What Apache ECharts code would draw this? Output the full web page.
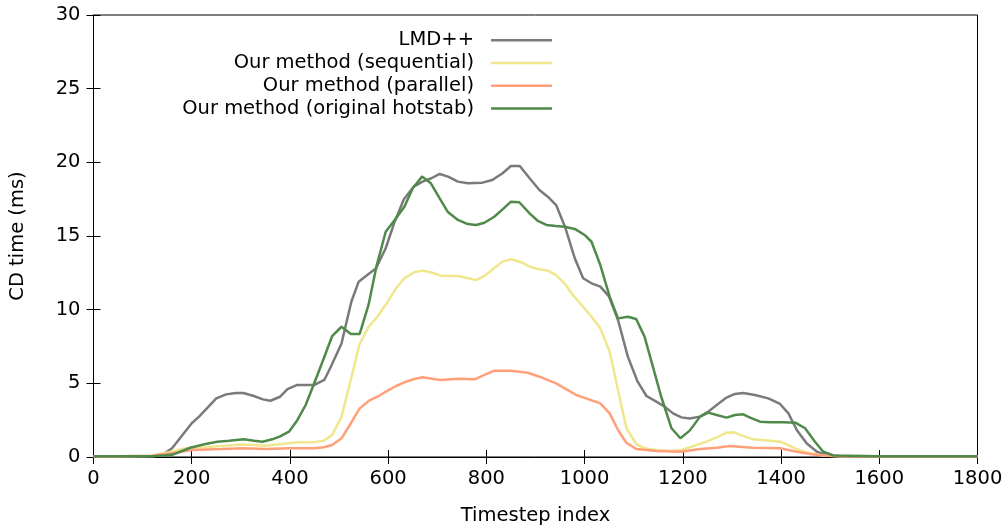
<!DOCTYPE html>
<html>
<head>
<meta charset="utf-8">
<script src="https://cdn.jsdelivr.net/npm/echarts@6/dist/echarts.min.js"></script>
<style>
    html, body { margin: 0; padding: 0; background: #fff; }
    #chart { width: 1008px; height: 527px; }
</style>
</head>
<body>
<div id="chart"></div>
<script>
// series names (legend order)
const names = ['LMD++', 'Our method (sequential)', 'Our method (parallel)', 'Our method (original hotstab)'];

// LMD++
const lmdT = [0, 60, 120, 140, 160, 200, 215, 250, 270, 290, 305, 325, 345, 360, 380, 395, 415, 450, 470, 485, 505, 525, 540, 560, 575, 595, 612, 632, 652, 670, 688, 705, 722, 742, 762, 792, 812, 833, 850, 868, 888, 908, 925, 942, 960, 980, 997, 1014, 1032, 1050, 1068, 1088, 1108, 1126, 1146, 1163, 1180, 1197, 1214, 1235, 1252, 1269, 1289, 1306, 1323, 1347, 1374, 1398, 1415, 1432, 1452, 1473, 1493, 1520, 1600, 1700, 1800];
const lmdV = [0.05, 0.05, 0.05, 0.15, 0.59, 2.29, 2.74, 3.98, 4.25, 4.34, 4.34, 4.16, 3.91, 3.82, 4.09, 4.6, 4.89, 4.89, 5.23, 6.24, 7.71, 10.54, 11.9, 12.42, 12.8, 14.17, 15.86, 17.49, 18.35, 18.69, 18.92, 19.21, 19.03, 18.69, 18.58, 18.62, 18.8, 19.26, 19.75, 19.75, 18.92, 18.12, 17.67, 17.1, 15.63, 13.49, 12.13, 11.79, 11.56, 10.88, 9.3, 6.81, 5.11, 4.14, 3.76, 3.42, 2.96, 2.69, 2.62, 2.74, 3.08, 3.53, 4.03, 4.28, 4.34, 4.21, 3.98, 3.6, 2.96, 1.83, 0.93, 0.36, 0.14, 0.06, 0.05, 0.05, 0.05];

// Our method (sequential)
const seqT = [0, 60, 120, 133, 160, 180, 201, 228, 262, 296, 323, 350, 384, 415, 449, 469, 486, 505, 524, 541, 560, 578, 599, 616, 633, 653, 670, 690, 707, 742, 779, 796, 813, 833, 850, 871, 888, 905, 925, 942, 959, 976, 997, 1014, 1032, 1051, 1068, 1085, 1105, 1122, 1146, 1173, 1197, 1218, 1248, 1269, 1289, 1303, 1323, 1343, 1378, 1398, 1415, 1439, 1466, 1486, 1520, 1600, 1700, 1800];
const seqV = [0.05, 0.05, 0.08, 0.2, 0.36, 0.54, 0.63, 0.66, 0.75, 0.84, 0.81, 0.77, 0.88, 1.0, 1.0, 1.11, 1.49, 2.74, 5.23, 7.6, 8.84, 9.52, 10.54, 11.45, 12.13, 12.54, 12.65, 12.51, 12.31, 12.29, 12.01, 12.29, 12.74, 13.26, 13.42, 13.22, 12.92, 12.76, 12.65, 12.35, 11.79, 11.0, 10.2, 9.52, 8.73, 7.15, 4.55, 1.95, 0.88, 0.59, 0.48, 0.41, 0.48, 0.7, 1.04, 1.33, 1.65, 1.68, 1.43, 1.2, 1.11, 1.04, 0.81, 0.43, 0.2, 0.1, 0.05, 0.05, 0.05, 0.05];

// Our method (parallel)
const parT = [0, 60, 120, 133, 160, 201, 262, 303, 350, 398, 449, 469, 486, 505, 524, 542, 561, 578, 599, 616, 633, 653, 670, 690, 707, 742, 776, 796, 816, 850, 884, 908, 942, 963, 983, 1003, 1032, 1051, 1068, 1085, 1105, 1146, 1197, 1235, 1269, 1296, 1343, 1398, 1432, 1459, 1486, 1520, 1600, 1700, 1800];
const parV = [0.05, 0.05, 0.08, 0.15, 0.25, 0.48, 0.54, 0.59, 0.54, 0.59, 0.59, 0.66, 0.81, 1.27, 2.29, 3.3, 3.82, 4.09, 4.5, 4.82, 5.07, 5.29, 5.41, 5.31, 5.23, 5.31, 5.27, 5.57, 5.86, 5.86, 5.72, 5.45, 5.0, 4.59, 4.21, 3.98, 3.64, 2.96, 1.83, 0.97, 0.54, 0.41, 0.36, 0.54, 0.63, 0.75, 0.63, 0.59, 0.36, 0.2, 0.1, 0.05, 0.05, 0.05, 0.05];

// Our method (original hotstab)
const hotT = [0, 60, 120, 160, 197, 228, 252, 276, 306, 327, 344, 364, 380, 398, 415, 432, 452, 469, 486, 505, 524, 542, 560, 576, 595, 616, 633, 650, 669, 687, 704, 721, 742, 762, 779, 796, 816, 833, 850, 867, 888, 905, 922, 942, 959, 980, 1000, 1014, 1032, 1051, 1068, 1088, 1105, 1122, 1139, 1156, 1177, 1195, 1214, 1235, 1252, 1269, 1289, 1306, 1323, 1337, 1357, 1378, 1405, 1429, 1449, 1469, 1486, 1507, 1600, 1700, 1800];
const hotV = [0.05, 0.05, 0.05, 0.15, 0.63, 0.88, 1.04, 1.11, 1.2, 1.11, 1.04, 1.2, 1.4, 1.72, 2.5, 3.53, 5.23, 6.7, 8.21, 8.84, 8.35, 8.35, 10.32, 12.92, 15.29, 16.2, 16.99, 18.24, 19.03, 18.58, 17.6, 16.65, 16.09, 15.81, 15.75, 15.9, 16.31, 16.81, 17.33, 17.29, 16.54, 16.02, 15.75, 15.68, 15.63, 15.48, 15.07, 14.61, 13.03, 10.88, 9.41, 9.52, 9.37, 8.17, 6.13, 4.09, 1.95, 1.27, 1.79, 2.74, 3.01, 2.85, 2.67, 2.85, 2.9, 2.67, 2.4, 2.36, 2.36, 2.33, 1.95, 1.04, 0.36, 0.1, 0.05, 0.05, 0.05];

const colors = ['#7a7a7a', '#f0e68c', '#ffa07a', '#4f8a4b'];

const font = 'DejaVu Sans';
const fs = 19.5;

function pairs(xs, ys) {
    return xs.map((x, i) => [x, ys[i]]);
}

const chart = echarts.init(document.getElementById('chart'));

const hiddenAxis = {
    axisLabel: { show: false },
    axisLine: { show: true, lineStyle: { color: '#000', width: 1 } },
    axisTick: { show: true, inside: true, length: 7, lineStyle: { color: '#000' } },
    splitLine: { show: false }
};

chart.setOption({
    animation: false,
    color: colors,
    grid: {
        left: 93.5,
        right: 30.5,
        top: 15,
        bottom: 70,
        outerBoundsMode: 'none',
        show: true,
        borderColor: '#000',
        borderWidth: 1
    },
    legend: {
        orient: 'vertical',
        align: 'right',
        right: 451,
        top: 24,
        icon: 'rect',
        itemWidth: 61,
        itemHeight: 2.5,
        itemGap: 0,
        data: names,
        textStyle: { fontFamily: font, fontSize: fs, lineHeight: 22.7, color: '#000', padding: [0, 12, 0, 0] }
    },
    xAxis: [
        {
            type: 'value',
            min: 0,
            max: 1800,
            interval: 200,
            name: 'Timestep index',
            nameLocation: 'middle',
            nameGap: 49,
            nameTextStyle: { fontFamily: font, fontSize: fs, color: '#000' },
            axisLabel: { fontFamily: font, fontSize: fs, color: '#000', margin: 12, formatter: v => String(v) },
            axisLine: { show: true, lineStyle: { color: '#000', width: 1 } },
            axisTick: { show: true, inside: true, length: 7, lineStyle: { color: '#000' } },
            splitLine: { show: false }
        },
        Object.assign({ type: 'value', position: 'top', min: 0, max: 1800, interval: 200 }, hiddenAxis)
    ],
    yAxis: [
        {
            type: 'value',
            min: 0,
            max: 30,
            interval: 5,
            name: 'CD time (ms)',
            nameLocation: 'middle',
            nameGap: 66,
            nameTextStyle: { fontFamily: font, fontSize: fs, color: '#000' },
            axisLabel: { fontFamily: font, fontSize: fs, color: '#000', margin: 13, formatter: v => String(v) },
            axisLine: { show: true, lineStyle: { color: '#000', width: 1 } },
            axisTick: { show: true, inside: true, length: 7, lineStyle: { color: '#000' } },
            splitLine: { show: false }
        },
        Object.assign({ type: 'value', position: 'right', min: 0, max: 30, interval: 5 }, hiddenAxis)
    ],
    series: [
        { name: names[0], type: 'line', symbol: 'none', lineStyle: { width: 2.5 }, data: pairs(lmdT, lmdV) },
        { name: names[1], type: 'line', symbol: 'none', lineStyle: { width: 2.5 }, data: pairs(seqT, seqV) },
        { name: names[2], type: 'line', symbol: 'none', lineStyle: { width: 2.5 }, data: pairs(parT, parV) },
        { name: names[3], type: 'line', symbol: 'none', lineStyle: { width: 2.5 }, data: pairs(hotT, hotV) }
    ]
});
</script>
</body>
</html>
